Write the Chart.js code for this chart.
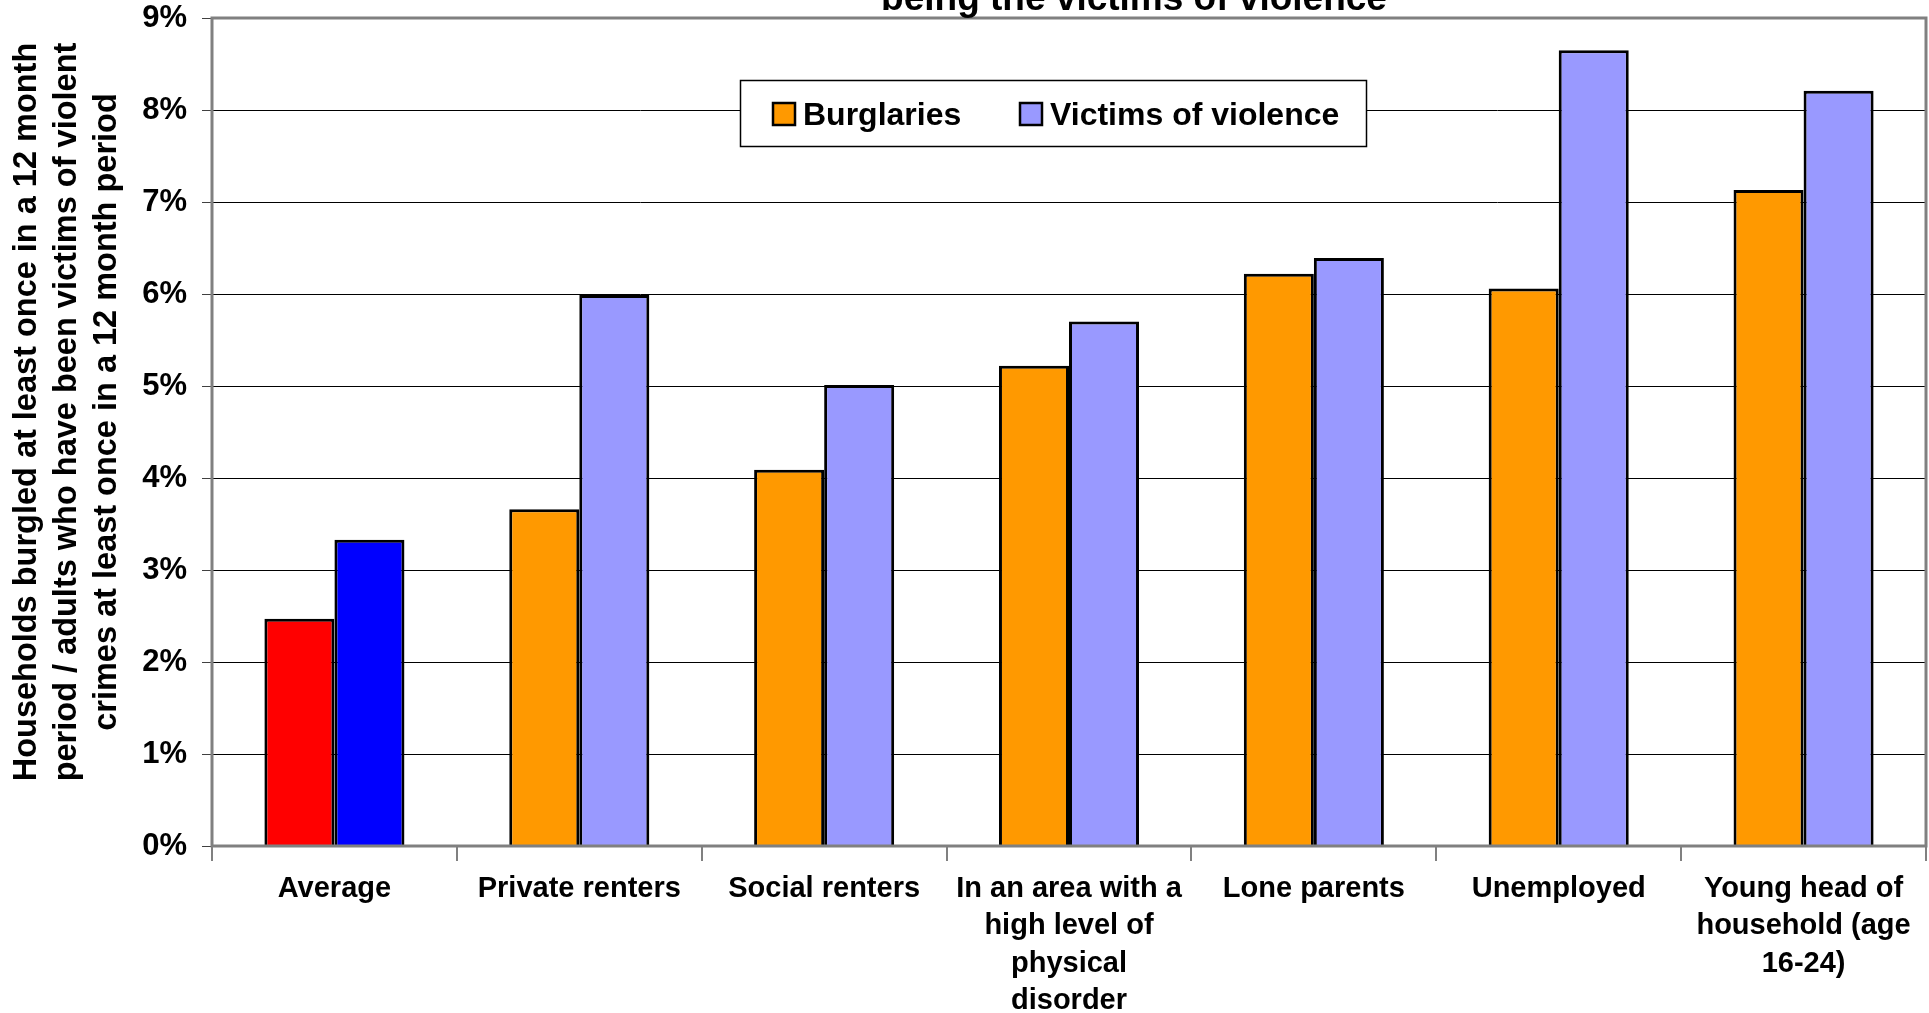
<!DOCTYPE html>
<html>
<head>
<meta charset="utf-8">
<script src="https://cdn.jsdelivr.net/npm/chart.js@4.4.1/dist/chart.umd.min.js"></script>
<style>
  html, body { margin: 0; padding: 0; background: #fff; }
  #wrap { width: 1929px; height: 1013px; }
</style>
</head>
<body>
<div id="wrap"><canvas id="chart" width="1929" height="1013"></canvas></div>
<script>
// data
const categories = [
    'Average',
    'Private renters',
    'Social renters',
    ['In an area with a', 'high level of', 'physical', 'disorder'],
    'Lone parents',
    'Unemployed',
    ['Young head of', 'household (age', '16-24)']
];
const burglaries = [2.47, 3.66, 4.09, 5.22, 6.22, 6.06, 7.13];
const violence   = [3.33, 5.99, 5.01, 5.70, 6.39, 8.65, 8.21];
const yTicks = [0, 1, 2, 3, 4, 5, 6, 7, 8, 9];

const FONT = "'Liberation Sans', Arial, Helvetica, sans-serif";
const ORANGE = '#FF9900';
const VIOLET = '#9999FF';

// the Average bars are drawn red / blue in the original
const burgColors = categories.map((c, i) => i === 0 ? '#FF0000' : ORANGE);
const violColors = categories.map((c, i) => i === 0 ? '#0000FF' : VIOLET);

const extrasPlugin = {
    id: 'extras',
    afterDatasetsDraw(chart) {
        const ctx = chart.ctx;
        const a = chart.chartArea;
        ctx.save();
        // plot frame
        ctx.strokeStyle = '#808080';
        ctx.lineWidth = 3;
        ctx.strokeRect(a.left, a.top, a.right - a.left, a.bottom - a.top);
        ctx.restore();
    },
    afterDraw(chart) {
        const ctx = chart.ctx;
        ctx.save();
        ctx.fillStyle = '#000';

        // title, clipped at the top edge like the original
        ctx.font = 'bold 37px ' + FONT;
        ctx.textAlign = 'center';
        ctx.textBaseline = 'alphabetic';
        ctx.fillText('being the victims of violence', 1134, 10);

        // y axis title
        const lines = [
            'Households burgled at least once in a 12 month',
            'period / adults who have been victims of violent',
            'crimes at least once in a 12 month period'
        ];
        ctx.font = 'bold 32.5px ' + FONT;
        ctx.translate(0, 412);
        ctx.rotate(-Math.PI / 2);
        ctx.textBaseline = 'middle';
        lines.forEach((t, i) => ctx.fillText(t, 0, 27 + i * 40));
        ctx.restore();

        // legend box
        ctx.save();
        ctx.fillStyle = '#fff';
        ctx.fillRect(740, 80, 627, 66);
        ctx.strokeStyle = '#000';
        ctx.lineWidth = 1.5;
        ctx.strokeRect(740.5, 80.5, 626, 66);
        const items = [
            { text: 'Burglaries', color: ORANGE, x: 773 },
            { text: 'Victims of violence', color: VIOLET, x: 1020 }
        ];
        ctx.font = 'bold 32px ' + FONT;
        ctx.textAlign = 'left';
        ctx.textBaseline = 'alphabetic';
        items.forEach(it => {
            ctx.fillStyle = it.color;
            ctx.fillRect(it.x, 103, 22, 22);
            ctx.strokeStyle = '#000';
            ctx.lineWidth = 2.5;
            ctx.strokeRect(it.x, 103, 22, 22);
            ctx.fillStyle = '#000';
            ctx.fillText(it.text, it.x + 30, 125);
        });
        ctx.restore();
    }
};

new Chart(document.getElementById('chart'), {
    type: 'bar',
    data: {
        labels: categories,
        datasets: [
            { label: 'Burglaries', data: burglaries, backgroundColor: burgColors, borderColor: '#000', borderWidth: 3,
              categoryPercentage: 0.572, barPercentage: 1.0 },
            { label: 'Victims of violence', data: violence, backgroundColor: violColors, borderColor: '#000', borderWidth: 3,
              categoryPercentage: 0.572, barPercentage: 1.0 }
        ]
    },
    options: {
        responsive: false,
        animation: false,
        devicePixelRatio: 1,
        layout: { padding: { left: 0, top: 18, right: 3, bottom: 0 }, autoPadding: false },
        plugins: { legend: { display: false }, title: { display: false }, tooltip: { enabled: false } },
        scales: {
            x: {
                afterFit(scale) { scale.height = 167; scale.paddingLeft = 0; scale.paddingRight = 0; },
                grid: { offset: true, drawOnChartArea: false, drawTicks: true, tickLength: 15, color: '#808080', lineWidth: 2 },
                border: { display: false },
                ticks: { color: '#000', padding: 9, maxRotation: 0, autoSkip: false,
                         font: { family: FONT, size: 29, weight: 'bold', lineHeight: 1.29 } }
            },
            y: {
                min: 0, max: 9,
                afterFit(scale) { scale.width = 212; scale.paddingTop = 0; scale.paddingBottom = 0; },
                afterBuildTicks(scale) { scale.ticks = yTicks.map(v => ({ value: v })); },
                grid: { color: '#000', lineWidth: 1, tickLength: 10, tickColor: '#404040' },
                border: { display: false },
                ticks: { color: '#000', padding: 15, callback: v => v + '%',
                         font: { family: FONT, size: 31, weight: 'bold' } }
            }
        }
    },
    plugins: [extrasPlugin]
});
</script>
</body>
</html>
